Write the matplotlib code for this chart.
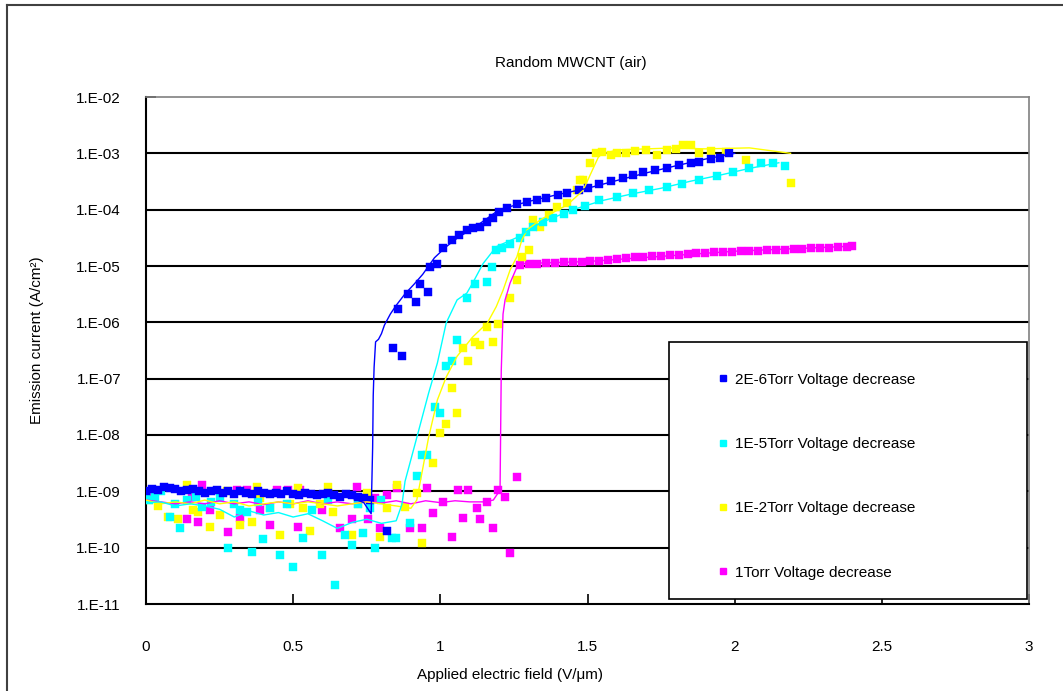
import matplotlib
matplotlib.use("Agg")
import matplotlib.pyplot as plt
from matplotlib.lines import Line2D
from matplotlib.patches import Rectangle
from matplotlib.ticker import FixedLocator, NullLocator

plt.rcParams['font.family'] = ['Liberation Sans', 'DejaVu Sans']

# ---------------- data ----------------
title = "Random MWCNT (air)"
xlabel = "Applied electric field (V/μm)"
ylabel = "Emission current (A/cm²)"
labels = ["2E-6Torr Voltage decrease", "1E-5Torr Voltage decrease",
          "1E-2Torr Voltage decrease", "1Torr Voltage decrease"]
colors = ["#0000FF", "#00FFFF", "#FFFF00", "#FF00FF"]

xticks = [0, 0.5, 1, 1.5, 2, 2.5, 3]
xticklabels = ["0", "0.5", "1", "1.5", "2", "2.5", "3"]
yticks = [1e-11, 1e-10, 1e-9, 1e-8, 1e-7, 1e-6, 1e-5, 1e-4, 1e-3, 1e-2]
yticklabels = ["1.E-11", "1.E-10", "1.E-09", "1.E-08", "1.E-07",
               "1.E-06", "1.E-05", "1.E-04", "1.E-03", "1.E-02"]

# 2E-6 Torr markers
blue_x = [0.00, 0.02, 0.04, 0.06, 0.08, 0.10, 0.12, 0.14, 0.16, 0.18, 0.20, 0.22, 0.24,
          0.26, 0.28, 0.30, 0.32, 0.34, 0.36, 0.38, 0.40, 0.42, 0.44, 0.46, 0.48, 0.50,
          0.52, 0.54, 0.56, 0.58, 0.60, 0.62, 0.64, 0.66, 0.68, 0.70, 0.72, 0.74, 0.76,
          0.82, 0.84, 0.87, 0.857, 0.89, 0.917, 0.93, 0.958, 0.965, 0.99, 1.01, 1.04,
          1.065, 1.09, 1.11, 1.135, 1.16, 1.18, 1.20, 1.227, 1.26, 1.295, 1.33, 1.36,
          1.40, 1.43, 1.47, 1.50, 1.54, 1.58, 1.62, 1.655, 1.69, 1.73, 1.77, 1.81,
          1.85, 1.88, 1.92, 1.95, 1.98]
blue_y = [1.0e-9, 1.1e-9, 1.05e-9, 1.2e-9, 1.15e-9, 1.1e-9, 1.0e-9, 1.05e-9, 1.1e-9,
          1.0e-9, 0.95e-9, 1.0e-9, 1.05e-9, 0.95e-9, 1.0e-9, 0.9e-9, 1.0e-9, 0.95e-9,
          0.9e-9, 1.0e-9, 0.95e-9, 0.9e-9, 0.95e-9, 0.9e-9, 1.0e-9, 0.9e-9, 0.85e-9,
          0.95e-9, 0.9e-9, 0.85e-9, 0.9e-9, 0.95e-9, 0.85e-9, 0.8e-9, 0.9e-9, 0.85e-9,
          0.8e-9, 0.75e-9, 0.7e-9,
          2.0e-10, 3.5e-7, 2.5e-7, 1.7e-6, 3.2e-6, 2.3e-6, 4.8e-6, 3.5e-6, 9.5e-6,
          1.1e-5, 2.1e-5, 2.9e-5, 3.6e-5, 4.4e-5, 4.8e-5, 5.0e-5, 6.0e-5, 7.1e-5,
          9.0e-5, 1.07e-4, 1.25e-4, 1.38e-4, 1.5e-4, 1.62e-4, 1.8e-4, 2.0e-4, 2.2e-4,
          2.4e-4, 2.9e-4, 3.2e-4, 3.6e-4, 4.1e-4, 4.6e-4, 5.0e-4, 5.5e-4, 6.1e-4,
          6.6e-4, 7.1e-4, 7.9e-4, 8.3e-4, 1.0e-3]

# 2E-6 Torr line
blue_lx = [0.0, 0.05, 0.1, 0.15, 0.2, 0.25, 0.3, 0.35, 0.4, 0.45, 0.5, 0.55, 0.6, 0.65,
           0.7, 0.74, 0.765, 0.770, 0.772, 0.775, 0.78, 0.79, 0.80, 0.81, 0.83, 0.85,
           0.88, 0.91, 0.94, 0.98, 1.02, 1.06, 1.12, 1.2, 1.3, 1.4, 1.5, 1.6, 1.7, 1.8,
           1.9, 2.0]
blue_ly = [1.0e-9, 1.07e-9, 1.05e-9, 1.0e-9, 0.95e-9, 1.0e-9, 0.95e-9, 0.93e-9, 0.93e-9,
           0.91e-9, 0.89e-9, 0.91e-9, 0.87e-9, 0.83e-9, 0.76e-9, 0.63e-9, 0.4e-9,
           6.0e-9, 5.0e-8, 1.6e-7, 4.5e-7, 5.0e-7, 6.3e-7, 8.9e-7, 1.4e-6, 2.0e-6,
           3.2e-6, 4.7e-6, 7.1e-6, 1.4e-5, 2.2e-5, 3.2e-5, 5.0e-5, 1.0e-4, 1.4e-4,
           1.86e-4, 2.4e-4, 3.3e-4, 4.5e-4, 6.0e-4, 7.9e-4, 1.0e-3]

# 1E-5 Torr markers
cyan_x = [0.00, 0.01, 0.03, 0.05, 0.08, 0.10, 0.115, 0.14, 0.17, 0.19, 0.22, 0.25, 0.28,
          0.30, 0.32, 0.343, 0.36, 0.38, 0.397, 0.42, 0.455, 0.48, 0.50, 0.534, 0.564,
          0.598, 0.62, 0.642, 0.676, 0.70, 0.72, 0.737, 0.761, 0.778, 0.80, 0.836,
          0.85, 0.897, 0.92, 0.937, 0.955, 0.982, 1.00, 1.02, 1.04, 1.057, 1.09, 1.118,
          1.16, 1.175, 1.19, 1.21, 1.237, 1.27, 1.29, 1.315, 1.35, 1.383, 1.42, 1.45,
          1.49, 1.54, 1.60, 1.655, 1.71, 1.77, 1.82, 1.88, 1.94, 1.995, 2.05, 2.09,
          2.13, 2.17]
cyan_y = [9e-10, 7e-10, 8e-10, 1.0e-9, 3.5e-10, 6e-10, 2.2e-10, 7e-10, 8e-10, 5.2e-10,
          6.5e-10, 7.5e-10, 1.0e-10, 6e-10, 4.7e-10, 4.3e-10, 8.3e-11, 6.5e-10, 1.4e-10,
          5e-10, 7.4e-11, 6e-10, 4.6e-11, 1.5e-10, 4.7e-10, 7.4e-11, 7e-10, 2.2e-11,
          1.7e-10, 1.1e-10, 6e-10, 1.8e-10, 5e-10, 1.0e-10, 7e-10, 1.5e-10, 1.5e-10,
          2.7e-10, 1.9e-9, 4.4e-9, 4.4e-9, 3.2e-8, 2.5e-8, 1.7e-7, 2.1e-7, 4.9e-7,
          2.7e-6, 4.7e-6, 5.2e-6, 9.5e-6, 1.9e-5, 2.1e-5, 2.5e-5, 3.2e-5, 4.0e-5,
          5.0e-5, 6.0e-5, 7.1e-5, 8.5e-5, 1.0e-4, 1.15e-4, 1.48e-4, 1.7e-4, 1.95e-4,
          2.2e-4, 2.5e-4, 2.9e-4, 3.4e-4, 4.0e-4, 4.7e-4, 5.5e-4, 6.6e-4, 6.6e-4, 6.0e-4]

# 1E-5 Torr line
cyan_lx = [0.0, 0.05, 0.1, 0.15, 0.2, 0.25, 0.3, 0.35, 0.4, 0.45, 0.5, 0.55, 0.6, 0.65,
           0.7, 0.75, 0.8, 0.85, 0.87, 0.88, 0.92, 0.96, 0.99, 1.02, 1.057, 1.09, 1.11,
           1.145, 1.19, 1.26, 1.34, 1.45, 1.55, 1.65, 1.75, 1.85, 1.95, 2.05, 2.15]
cyan_ly = [6.3e-10, 6.5e-10, 5.5e-10, 6.0e-10, 5.5e-10, 4.8e-10, 3.5e-10, 4.5e-10,
           3.8e-10, 4.2e-10, 3.5e-10, 4.0e-10, 3.0e-10, 2.2e-10, 2.8e-10, 3.2e-10,
           2.7e-10, 3.0e-10, 6e-10, 1.5e-9, 9e-9, 5.5e-8, 1.9e-7, 9.8e-7, 2.5e-6,
           3.3e-6, 5e-6, 1.1e-5, 2.2e-5, 3.2e-5, 5.8e-5, 1.0e-4, 1.45e-4, 1.9e-4,
           2.4e-4, 3.2e-4, 4.1e-4, 5.4e-4, 6.8e-4]

# 1E-2 Torr markers
yellow_x = [0.01, 0.04, 0.076, 0.11, 0.14, 0.16, 0.177, 0.217, 0.25, 0.275, 0.32, 0.36,
            0.377, 0.387, 0.42, 0.455, 0.49, 0.517, 0.534, 0.557, 0.59, 0.62, 0.635,
            0.70, 0.72, 0.75, 0.795, 0.82, 0.853, 0.88, 0.92, 0.937, 0.975, 1.00, 1.02,
            1.04, 1.057, 1.077, 1.094, 1.118, 1.135, 1.16, 1.18, 1.196, 1.237, 1.26,
            1.277, 1.30, 1.315, 1.34, 1.37, 1.397, 1.43, 1.464, 1.475, 1.485, 1.51,
            1.53, 1.55, 1.58, 1.60, 1.63, 1.66, 1.70, 1.736, 1.77, 1.80, 1.825, 1.85,
            1.88, 1.92, 1.97, 2.04, 2.19]
yellow_y = [7e-10, 5.5e-10, 3.5e-10, 3.2e-10, 1.3e-9, 4.7e-10, 4.3e-10, 2.3e-10,
            3.8e-10, 1.0e-9, 2.5e-10, 2.8e-10, 1.2e-9, 7.6e-10, 5e-10, 1.7e-10, 6e-10,
            1.15e-9, 5e-10, 2.0e-10, 6e-10, 1.2e-9, 4.3e-10, 1.7e-10, 6e-10, 9.3e-10,
            1.55e-10, 5e-10, 1.3e-9, 5.2e-10, 9.3e-10, 1.2e-10, 3.2e-9, 1.1e-8, 1.6e-8,
            6.8e-8, 2.5e-8, 3.5e-7, 2.1e-7, 4.5e-7, 4.0e-7, 8.3e-7, 4.5e-7, 9.5e-7,
            2.7e-6, 5.6e-6, 1.45e-5, 1.9e-5, 6.6e-5, 5.0e-5, 8e-5, 1.1e-4, 1.3e-4,
            2.2e-4, 3.4e-4, 3.4e-4, 6.6e-4, 1.0e-3, 1.05e-3, 9.5e-4, 1.0e-3, 1.0e-3,
            1.1e-3, 1.15e-3, 9.3e-4, 1.15e-3, 1.2e-3, 1.4e-3, 1.4e-3, 1.0e-3, 1.1e-3,
            1.05e-3, 7.6e-4, 2.95e-4]

# 1E-2 Torr line
yellow_lx = [0.0, 0.05, 0.1, 0.15, 0.2, 0.25, 0.3, 0.35, 0.4, 0.45, 0.5, 0.55, 0.6,
             0.65, 0.7, 0.75, 0.8, 0.85, 0.9, 0.92, 0.94, 0.96, 0.99, 1.02, 1.057,
             1.11, 1.16, 1.19, 1.213, 1.237, 1.26, 1.277, 1.295, 1.34, 1.40, 1.43,
             1.485, 1.54, 1.60, 1.70, 1.80, 1.90, 2.05, 2.19]
yellow_ly = [7e-10, 6e-10, 6.5e-10, 6e-10, 7e-10, 6e-10, 6.5e-10, 5.5e-10, 6e-10,
             6.5e-10, 6e-10, 6.5e-10, 6e-10, 5.5e-10, 6e-10, 6.5e-10, 6e-10, 5.5e-10,
             5e-10, 7e-10, 2.5e-9, 9e-9, 4.2e-8, 1.07e-7, 2.5e-7, 5.5e-7, 9.8e-7,
             1.9e-6, 3.7e-6, 8.5e-6, 1.45e-5, 2.9e-5, 4.4e-5, 6.6e-5, 1.0e-4, 1.2e-4,
             2.2e-4, 9.3e-4, 1.15e-3, 1.2e-3, 1.25e-3, 1.2e-3, 1.25e-3, 1.0e-3]

# 1 Torr markers
magenta_x = [0.00, 0.024, 0.14, 0.155, 0.177, 0.19, 0.217, 0.28, 0.31, 0.32, 0.343,
             0.387, 0.42, 0.445, 0.483, 0.517, 0.523, 0.598, 0.66, 0.70, 0.717, 0.754,
             0.778, 0.795, 0.82, 0.853, 0.897, 0.937, 0.955, 0.975, 1.01, 1.04, 1.06,
             1.077, 1.094, 1.125, 1.135, 1.157, 1.18, 1.196, 1.22, 1.237, 1.26,
             1.27, 1.30, 1.33, 1.36, 1.39, 1.42, 1.45, 1.48, 1.51, 1.54, 1.57, 1.60,
             1.63, 1.66, 1.69, 1.72, 1.75, 1.78, 1.81, 1.84, 1.87, 1.90, 1.93, 1.96,
             1.99, 2.02, 2.05, 2.08, 2.11, 2.14, 2.17, 2.20, 2.23, 2.26, 2.29, 2.32,
             2.35, 2.38, 2.40]
magenta_y = [8e-10, 7.9e-10, 3.2e-10, 7.9e-10, 2.8e-10, 1.3e-9, 4.7e-10, 1.9e-10,
             1.05e-9, 3.4e-10, 1.05e-9, 4.7e-10, 2.5e-10, 1.05e-9, 1.05e-9, 2.3e-10,
             1.05e-9, 4.7e-10, 2.2e-10, 3.2e-10, 1.2e-9, 3.2e-10, 7.6e-10, 2.2e-10,
             8.5e-10, 1.15e-9, 2.2e-10, 2.2e-10, 1.15e-9, 4.1e-10, 6.5e-10, 1.55e-10,
             1.05e-9, 3.4e-10, 1.05e-9, 5e-10, 3.2e-10, 6.5e-10, 2.2e-10, 1.05e-9,
             7.9e-10, 8e-11, 1.78e-9,
             1.05e-5, 1.07e-5, 1.1e-5, 1.12e-5, 1.14e-5, 1.16e-5, 1.17e-5, 1.2e-5,
             1.22e-5, 1.25e-5, 1.3e-5, 1.33e-5, 1.37e-5, 1.42e-5, 1.45e-5, 1.48e-5,
             1.52e-5, 1.56e-5, 1.6e-5, 1.63e-5, 1.67e-5, 1.7e-5, 1.74e-5, 1.77e-5,
             1.8e-5, 1.83e-5, 1.86e-5, 1.88e-5, 1.9e-5, 1.93e-5, 1.96e-5, 2.0e-5,
             2.03e-5, 2.06e-5, 2.08e-5, 2.1e-5, 2.15e-5, 2.2e-5, 2.25e-5]

# 1 Torr line
magenta_lx = [0.0, 0.05, 0.1, 0.15, 0.2, 0.25, 0.3, 0.35, 0.4, 0.45, 0.5, 0.55, 0.6,
              0.65, 0.7, 0.75, 0.8, 0.85, 0.9, 0.95, 1.0, 1.05, 1.1, 1.15, 1.18, 1.20,
              1.203, 1.207, 1.213, 1.22, 1.227, 1.237, 1.26, 1.27, 1.5, 2.0, 2.4]
magenta_ly = [7e-10, 6.5e-10, 6e-10, 6.5e-10, 6e-10, 6.8e-10, 6e-10, 6.5e-10, 5.8e-10,
              6.5e-10, 6e-10, 6.8e-10, 6e-10, 6.5e-10, 6e-10, 6.5e-10, 6.2e-10,
              6.8e-10, 6e-10, 6.8e-10, 6.3e-10, 6.8e-10, 6.5e-10, 6.5e-10, 7e-10,
              1.0e-9, 1.2e-9, 1.4e-7, 1.4e-6, 2.5e-6, 3.3e-6, 5.0e-6, 9.5e-6, 1.1e-5,
              1.2e-5, 1.83e-5, 2.25e-5]

# ---------------- figure ----------------
W, H = 1063, 691
fig = plt.figure(figsize=(W / 100, H / 100), dpi=100)
fig.patch.set_facecolor("white")

# outer chart border (left and top visible)
fig.add_artist(Line2D([7 / W, 7 / W], [0, 1 - 5 / H], color="#404040", lw=1.5))
fig.add_artist(Line2D([7 / W, 1], [1 - 5 / H, 1 - 5 / H], color="#404040", lw=1.5))

L, R, T, B = 146, 1029, 97, 604
ax = fig.add_axes([L / W, 1 - B / H, (R - L) / W, (B - T) / H])
ax.set_yscale("log")
ax.set_xlim(0, 3)
ax.set_ylim(1e-11, 1e-2)

for yv in yticks[1:-1]:
    ax.axhline(yv, color="black", lw=1.5, zorder=1)

line_sets = [(blue_lx, blue_ly), (cyan_lx, cyan_ly), (yellow_lx, yellow_ly),
             (magenta_lx, magenta_ly)]
marker_sets = [(blue_x, blue_y), (cyan_x, cyan_y), (yellow_x, yellow_y),
               (magenta_x, magenta_y)]

order = [3, 2, 1, 0]
for i in order:
    mx, my = marker_sets[i]
    ax.plot(mx, my, linestyle="none", marker="s", ms=5.5, mfc=colors[i],
            mec=colors[i], mew=0.3, zorder=3)
for i in order:
    lx, ly = line_sets[i]
    ax.plot(lx, ly, color=colors[i], lw=1.0, zorder=4)

ax.xaxis.set_major_locator(FixedLocator(xticks))
ax.set_xticklabels(xticklabels)
ax.yaxis.set_major_locator(FixedLocator(yticks))
ax.set_yticklabels(yticklabels)
ax.yaxis.set_minor_locator(NullLocator())
ax.tick_params(axis="both", direction="in", length=7, width=1.2, labelsize=11,
               colors="black")
ax.tick_params(axis="x", pad=26)
ax.tick_params(axis="y", pad=18)

for s in ["left", "bottom"]:
    ax.spines[s].set_color("black")
    ax.spines[s].set_linewidth(1.5)
for s in ["top", "right"]:
    ax.spines[s].set_color("#808080")
    ax.spines[s].set_linewidth(1.2)

fig.text(571 / W, 1 - 63 / H, title, ha="center", va="center", fontsize=11)
fig.text(510 / W, 1 - 675 / H, xlabel, ha="center", va="center", fontsize=11)
fig.text(37 / W, 1 - 340 / H, ylabel, ha="center", va="center", fontsize=11,
         rotation=90)

# legend box
box = Rectangle(((669 - L) / (R - L), (B - 599) / (B - T)),
                (1027 - 669) / (R - L), (599 - 342) / (B - T),
                transform=ax.transAxes, facecolor="white", edgecolor="black",
                lw=1.2, zorder=5)
ax.add_patch(box)

handles = [Line2D([], [], linestyle="none", marker="s", ms=4, mfc=c, mec=c)
           for c in colors]
leg = ax.legend(handles, labels, loc="upper left",
                bbox_to_anchor=((718 - L) / (R - L), (B - 372.5) / (B - T)),
                fontsize=11, frameon=False, borderpad=0, labelspacing=3.3,
                handlelength=0.6, handletextpad=0.5, borderaxespad=0)
leg.set_zorder(6)

fig.savefig("out.png", dpi=100)
